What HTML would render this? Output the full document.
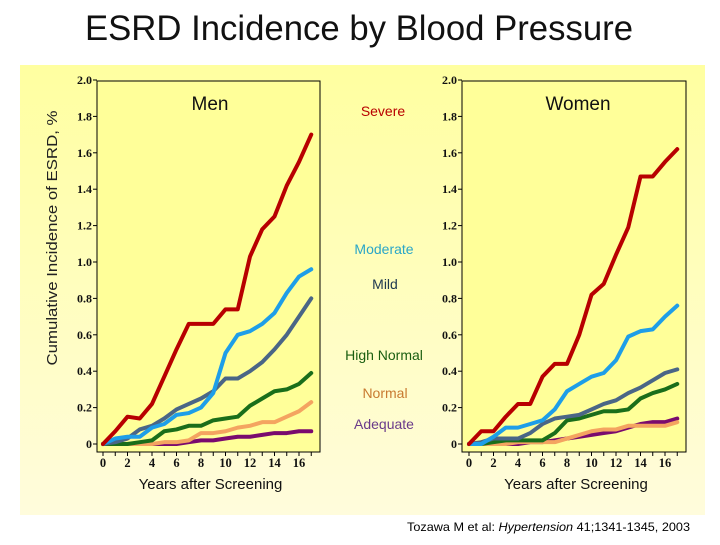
<!DOCTYPE html>
<html><head><meta charset="utf-8"><style>
body{margin:0;width:720px;height:540px;overflow:hidden;background:#fff;font-family:"Liberation Sans",sans-serif}
</style></head><body>
<svg id="chart" width="720" height="540" xmlns="http://www.w3.org/2000/svg">
<defs><linearGradient id="bg" x1="0" y1="0" x2="0" y2="1"><stop offset="0" stop-color="#ffffa0"/><stop offset="1" stop-color="#fffcdc"/></linearGradient></defs>
<rect x="20" y="65" width="685" height="450" fill="url(#bg)"/>
<text x="359" y="40" text-anchor="middle" font-size="35" textLength="548" lengthAdjust="spacingAndGlyphs" fill="#111">ESRD Incidence by Blood Pressure</text>
<text transform="translate(57,238) rotate(-90)" text-anchor="middle" font-size="15" textLength="255" lengthAdjust="spacingAndGlyphs" fill="#222">Cumulative Incidence of ESRD, %</text>
<text x="690" y="531" text-anchor="end" font-size="12" textLength="283" lengthAdjust="spacingAndGlyphs" fill="#000">Tozawa M et al: <tspan font-style="italic">Hypertension</tspan> 41;1341-1345, 2003</text>
<g id="plots"></g>
</svg>
<script>
const years=[0,1,2,3,4,5,6,7,8,9,10,11,12,13,14,15,16,17];
const yTicks=["0","0.2","0.4","0.6","0.8","1.0","1.2","1.4","1.6","1.8","2.0"];
const xTicks=[0,2,4,6,8,10,12,14,16];
const seriesNames=["adequate","normal","high-normal","mild","moderate","severe"];
const menAdequate=[0,0,0,0,0,0,0,.01,.02,.02,.03,.04,.04,.05,.06,.06,.07,.07];
const menNormal=[0,0,0,0,0,.01,.01,.02,.06,.06,.07,.09,.1,.12,.12,.15,.18,.23];
const menHighNormal=[0,0,0,.01,.02,.07,.08,.1,.1,.13,.14,.15,.21,.25,.29,.3,.33,.39];
const menMild=[0,.01,.03,.08,.1,.14,.19,.22,.25,.29,.36,.36,.4,.45,.52,.6,.7,.8];
const menModerate=[0,.03,.04,.04,.09,.11,.16,.17,.2,.28,.5,.6,.62,.66,.72,.83,.92,.96];
const menSevere=[0,.07,.15,.14,.22,.37,.52,.66,.66,.66,.74,.74,1.03,1.18,1.25,1.42,1.55,1.70];
const womenAdequate=[0,0,0,0,0,.01,.01,.02,.03,.04,.05,.06,.07,.09,.11,.12,.12,.14];
const womenNormal=[0,0,0,0,.01,.01,.01,.01,.03,.05,.07,.08,.08,.1,.1,.1,.1,.12];
const womenHighNormal=[0,0,.01,.02,.02,.02,.02,.06,.13,.14,.16,.18,.18,.19,.25,.28,.3,.33];
const womenMild=[0,.01,.03,.03,.03,.06,.11,.14,.15,.16,.19,.22,.24,.28,.31,.35,.39,.41];
const womenModerate=[0,0,.04,.09,.09,.11,.13,.19,.29,.33,.37,.39,.46,.59,.62,.63,.7,.76];
const womenSevere=[0,.07,.07,.15,.22,.22,.37,.44,.44,.6,.82,.88,1.04,1.19,1.47,1.47,1.55,1.62];

const colors=["#7a0a6e","#f4a460","#1a6e1a","#4a6686","#1e9ee8","#b80000"];
const NS="http://www.w3.org/2000/svg";
const root=document.getElementById('plots');
function mk(tag,attrs,parent){const e=document.createElementNS(NS,tag);for(const k in attrs)e.setAttribute(k,attrs[k]);(parent||root).appendChild(e);return e;}

function panel(name,fx0,fx1,x0px,title,titleX,data){
  const g=mk('g',{});
  
  
  const y0=444,yTop=80,pxPerYr=12.25;
  const X=v=>x0px+v*pxPerYr, Y=v=>y0-(v/2)*(y0-yTop);
  const fr=mk('rect',{x:fx0,y:81,width:fx1-fx0,height:371,fill:'#ffff99',stroke:'#000','stroke-width':1},g);
  
  
  yTicks.forEach((t,i)=>{const v=i*0.2;
    mk('line',{x1:fx0-4,x2:fx0,y1:Y(v),y2:Y(v),stroke:'#000'},g);
    const tx=mk('text',{x:fx0-5,y:Y(v)+4,'text-anchor':'end','font-size':12,'font-weight':'bold','font-family':'Liberation Serif, serif',fill:'#111'},g);
    tx.textContent=t;
    
    
  });
  years.forEach(v=>mk('line',{x1:X(v),x2:X(v),y1:452,y2:456,stroke:'#000'},g));
  xTicks.forEach(v=>{const tx=mk('text',{x:X(v),y:467,'text-anchor':'middle','font-size':12.5,'font-weight':'bold','font-family':'Liberation Serif, serif',fill:'#111'},g);
    tx.textContent=v;
    
    
  });
  const xt=mk('text',{x:(fx0+fx1)/2+2,y:489,'text-anchor':'middle','font-size':15,fill:'#111'},g);
  xt.textContent='Years after Screening';
  
  
  const tt=mk('text',{x:titleX,y:110,'text-anchor':'middle','font-size':19,fill:'#111'},g);
  tt.textContent=title;
  
  
  data.forEach((s,i)=>{
    const p=mk('polyline',{points:s.map((v,j)=>X(years[j])+','+Y(v)).join(' '),fill:'none',stroke:colors[i],'stroke-width':4,'stroke-linejoin':'round','stroke-linecap':'round'},g);
    
    
  });
}
panel('men',97,320,103,'Men',210,[menAdequate,menNormal,menHighNormal,menMild,menModerate,menSevere]);
panel('women',462,686,469,'Women',578,[womenAdequate,womenNormal,womenHighNormal,womenMild,womenModerate,womenSevere]);

const labels=[["Severe",383,116,"#b80000"],["Moderate",384,254,"#2aa6c8"],["Mild",385,289,"#203a50"],["High Normal",384,360,"#1a5e10"],["Normal",385,398,"#c87a30"],["Adequate",384,429,"#6a3a8a"]];
labels.forEach(l=>{const t=mk('text',{x:l[1],y:l[2],'text-anchor':'middle','font-size':14,fill:l[3]});
  t.textContent=l[0];
  
  
});
</script>
</body></html>
